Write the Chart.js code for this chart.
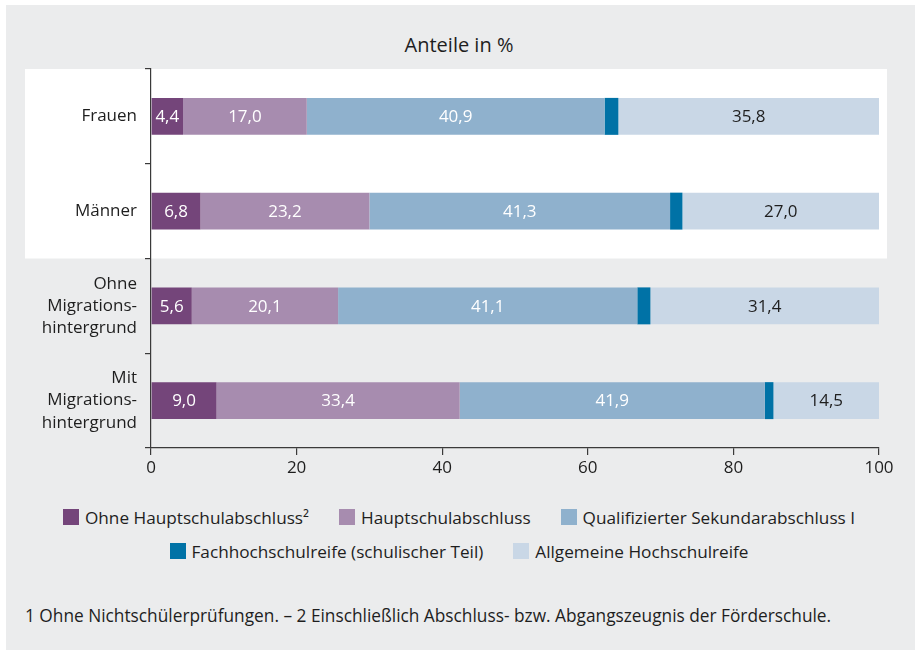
<!DOCTYPE html>
<html>
<head>
<meta charset="utf-8">
<script src="https://cdn.jsdelivr.net/npm/chart.js@4.4.1/dist/chart.umd.min.js"></script>
<style>
  html, body { margin: 0; padding: 0; background: #fff; }
  body { width: 915px; height: 650px; position: relative; overflow: hidden; font-family: "Open Sans", sans-serif; color: #1e1e1e; }
  #sfondo { position: absolute; left: 6px; top: 5px; right: 0; bottom: 0; background: #ebeced; }
  #titolo { position: absolute; left: 0; width: 918px; top: 31px; text-align: center; font-size: 20px; }
  #wrap { position: absolute; left: 0; top: 0; width: 915px; height: 500px; }
  #legenda { position: absolute; left: 20px; width: 878px; top: 505px; display: flex; flex-wrap: wrap; justify-content: center; column-gap: 30px; row-gap: 10px; font-size: 17.2px; }
  .voce { display: flex; align-items: center; white-space: nowrap; height: 24px; }
  .box { width: 16px; height: 16px; margin-right: 6px; }
  #nota { position: absolute; left: 25px; top: 604px; font-size: 17.3px; }
</style>
</head>
<body>
<div id="sfondo"></div>
<div id="titolo">Anteile in %</div>
<div id="wrap"><canvas id="myChart"></canvas></div>
<div id="legenda"></div>
<div id="nota">1 Ohne Nichtschülerprüfungen. – 2 Einschließlich Abschluss- bzw. Abgangszeugnis der Förderschule.</div>
<script>
var categorie = [['Frauen'], ['Männer'], ['Ohne', 'Migrations-', 'hintergrund'], ['Mit', 'Migrations-', 'hintergrund']];
var nomiSerie = ['Ohne Hauptschulabschluss²', 'Hauptschulabschluss', 'Qualifizierter Sekundarabschluss I', 'Fachhochschulreife (schulischer Teil)', 'Allgemeine Hochschulreife'];
var ohneHauptschul = [4.4, 6.8, 5.6, 9.0];
var hauptschul = [17.0, 23.2, 20.1, 33.4];
var qualifiziert = [40.9, 41.3, 41.1, 41.9];
var fachhochschul = [1.9, 1.7, 1.8, 1.2];
var allgemeine = [35.8, 27.0, 31.4, 14.5];
var tickX = [0, 20, 40, 60, 80, 100];

var colori = ['#74457a', '#a78caf', '#8fb1cd', '#0072a6', '#c9d7e6'];
var coloriTesto = ['#ffffff', '#ffffff', '#ffffff', null, '#1e1e1e'];
var serie = [ohneHauptschul, hauptschul, qualifiziert, fachhochschul, allgemeine];

var datasets = [];
for (var i = 0; i < serie.length; i++) {
  datasets.push({
    label: nomiSerie[i],
    data: serie[i],
    backgroundColor: colori[i],
    borderWidth: 0,
    barPercentage: 0.39,
    categoryPercentage: 1
  });
}

// fascia bianca dietro Frauen / Männer
var fascia = {
  id: 'fascia',
  beforeDraw: function(chart){
    var c = chart.ctx;
    var y = chart.scales.y;
    var top = chart.chartArea.top;
    var bottom = (y.getPixelForValue(1) + y.getPixelForValue(2)) / 2;
    c.save();
    c.fillStyle = '#ffffff';
    c.fillRect(25, top, 887 - 25, bottom - top);
    c.restore();
  }
};

// etichette dei valori dentro le barre
var etichette = {
  id: 'etichette',
  afterDatasetsDraw: function(chart){
    var c = chart.ctx;
    c.save();
    c.font = '17px "Open Sans"';
    c.textAlign = 'center';
    c.textBaseline = 'middle';
    chart.data.datasets.forEach(function(ds, i){
      if (!coloriTesto[i]) return;
      var meta = chart.getDatasetMeta(i);
      meta.data.forEach(function(bar, j){
        var testo = ds.data[j].toFixed(1).replace('.', ',');
        c.fillStyle = coloriTesto[i];
        c.fillText(testo, (bar.base + bar.x) / 2, bar.y + 1);
      });
    });
    c.restore();
  }
};

var ctx = document.getElementById('myChart');
var chart = new Chart(ctx, {
  type: 'bar',
  data: {
    labels: categorie,
    datasets: datasets
  },
  plugins: [fascia, etichette],
  options: {
    indexAxis: 'y',
    responsive: true,
    maintainAspectRatio: false,
    animation: false,
    layout: { padding: { top: 69, right: 36, left: 0, bottom: 0 } },
    plugins: {
      legend: { display: false },
      tooltip: { enabled: false }
    },
    scales: {
      x: {
        stacked: true,
        min: 0,
        max: 100,
        afterBuildTicks: function(scale){
          scale.ticks = tickX.map(function(v){ return { value: v }; });
        },
        grid: { drawOnChartArea: false, tickLength: 7, color: '#3a3a3a', lineWidth: 1.2 },
        border: { color: '#3a3a3a', width: 1.2 },
        ticks: { color: '#1e1e1e', font: { family: 'Open Sans', size: 17 }, padding: 3 },
        afterFit: function(scale){ scale.height = 52; }
      },
      y: {
        stacked: true,
        grid: { drawOnChartArea: false, offset: true, tickLength: 6, color: '#3a3a3a', lineWidth: 1.2 },
        border: { color: '#3a3a3a', width: 1.2 },
        ticks: { color: '#1e1e1e', font: { family: 'Open Sans', size: 17, lineHeight: 1.3 }, padding: 8 },
        afterFit: function(scale){ scale.width = 151; }
      }
    }
  }
});

// legenda html
var leg = document.getElementById('legenda');
for (var k = 0; k < nomiSerie.length; k++) {
  var voce = document.createElement('div');
  voce.className = 'voce';
  voce.innerHTML = '<span class="box" style="background:' + colori[k] + '"></span>' + nomiSerie[k];
  leg.appendChild(voce);
}
</script>
</body>
</html>
